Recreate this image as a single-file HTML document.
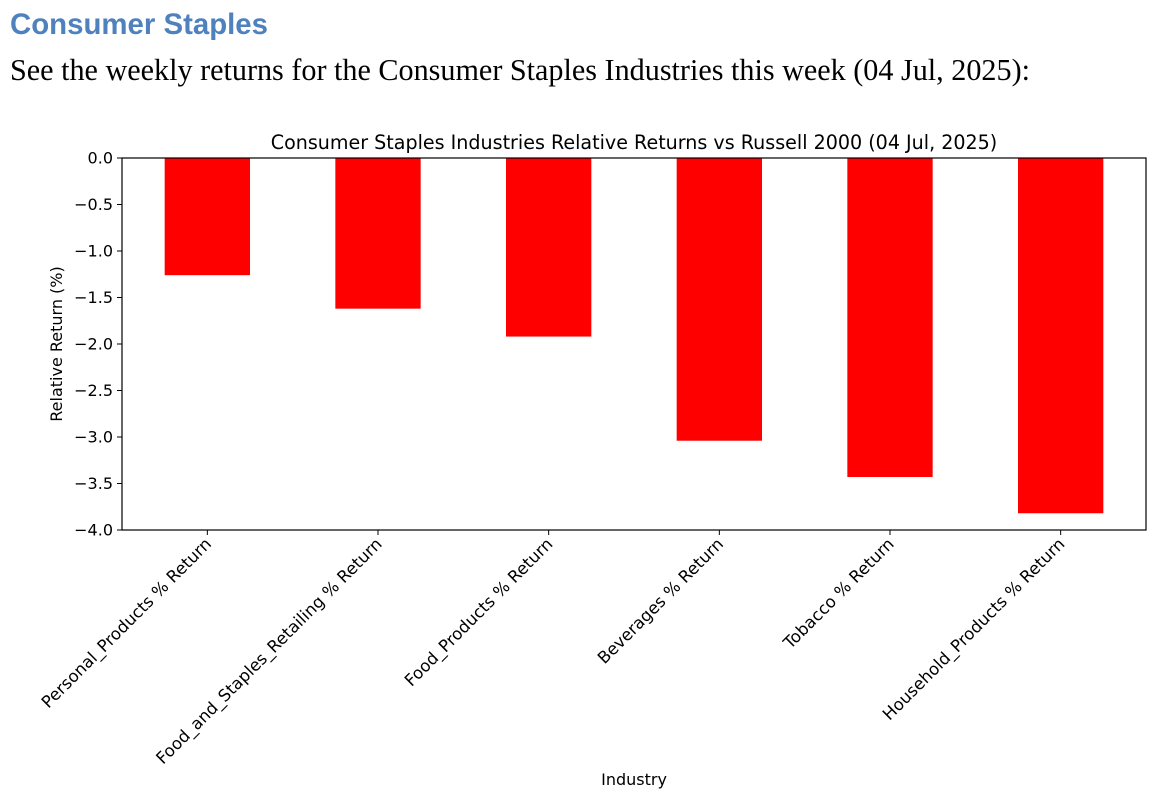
<!DOCTYPE html>
<html><head><meta charset="utf-8"><style>
body{margin:0;background:#fff;width:1160px;height:792px;overflow:hidden}
svg{display:block}
</style></head><body>
<svg width="1160" height="792" font-family="'DejaVu Sans', sans-serif">
<text x="10" y="34" font-family="'Liberation Sans',sans-serif" font-weight="bold" font-size="30" fill="#4f81bd" textLength="258" lengthAdjust="spacingAndGlyphs">Consumer Staples</text>
<text x="10" y="80" font-family="'Liberation Serif',serif" font-size="31" fill="#000" textLength="1020" lengthAdjust="spacingAndGlyphs">See the weekly returns for the Consumer Staples Industries this week (04 Jul, 2025):</text>
<g id="chart"></g>
</svg>
<script>
const categories=["Personal_Products % Return","Food_and_Staples_Retailing % Return","Food_Products % Return","Beverages % Return","Tobacco % Return","Household_Products % Return"];
const values=[-1.26,-1.62,-1.92,-3.04,-3.43,-3.82];
const yTicks=[0,-0.5,-1,-1.5,-2,-2.5,-3,-3.5,-4];
const tickLabels=["0.0","−0.5","−1.0","−1.5","−2.0","−2.5","−3.0","−3.5","−4.0"];
const NS="http://www.w3.org/2000/svg";
const g=document.getElementById('chart');
const L=122,R=1146,T=158,B=530;
const y=v=>T+(0-v)/(0-(-4))*(B-T);
const step=(R-L)/categories.length;
const x=i=>L+step*(i+0.5);
function el(t,a,txt){const e=document.createElementNS(NS,t);for(const k in a)e.setAttribute(k,a[k]);if(txt!=null)e.textContent=txt;g.appendChild(e);return e;}
values.forEach((v,i)=>{
 const r=el('rect',{x:x(i)-step*0.25,y:y(0),width:step*0.5,height:y(v)-y(0),fill:'#ff0000'});
 
 
});
yTicks.forEach((v,i)=>{
 el('line',{x1:L-5,x2:L,y1:y(v),y2:y(v),stroke:'#000','stroke-width':1});
 const t=el('text',{x:L-9,y:y(v)+5.5,'text-anchor':'end','font-size':16},tickLabels[i]);
 
 
});
categories.forEach((c,i)=>{
 el('line',{x1:x(i),x2:x(i),y1:B,y2:B+5,stroke:'#000','stroke-width':1});
 const ax=x(i)+5, ay=B+15;
 const t=el('text',{x:ax,y:ay,'text-anchor':'end','font-size':16.6,transform:`rotate(-45 ${ax} ${ay})`},c);
 
 
});
const f=el('rect',{x:L,y:T,width:R-L,height:B-T,fill:'none',stroke:'#000','stroke-width':1.2});


const tt=el('text',{x:(L+R)/2,y:T-9,'text-anchor':'middle','font-size':19.1},'Consumer Staples Industries Relative Returns vs Russell 2000 (04 Jul, 2025)');


const xt=el('text',{x:(L+R)/2,y:785,'text-anchor':'middle','font-size':16},'Industry');


const yt=el('text',{x:62,y:(T+B)/2,'text-anchor':'middle','font-size':16,transform:`rotate(-90 62 ${(T+B)/2})`},'Relative Return (%)');


</script>
</body></html>
